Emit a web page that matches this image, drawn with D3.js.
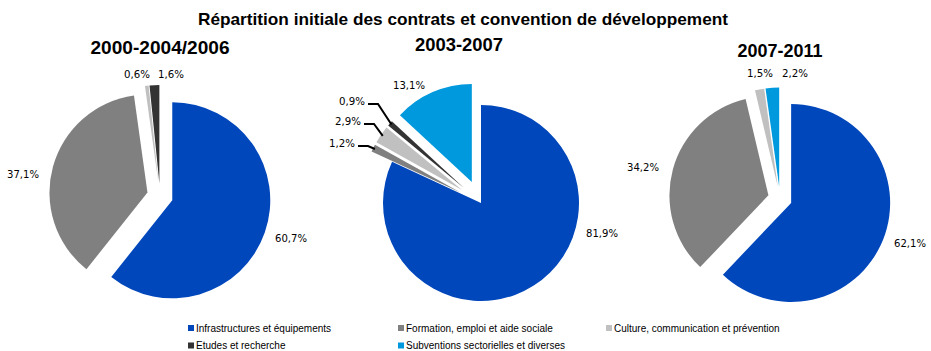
<!DOCTYPE html>
<html>
<head>
<meta charset="utf-8">
<script src="https://cdn.jsdelivr.net/npm/d3@7/dist/d3.min.js"></script>
<style>
  html, body { margin: 0; padding: 0; background: #fff; }
  svg { display: block; }
</style>
</head>
<body>
<svg id="chart" width="931" height="351"></svg>
<script>
// Categories of the development contracts
const categories = [
  "Infrastructures et équipements",
  "Formation, emploi et aide sociale",
  "Culture, communication et prévention",
  "Etudes et recherche",
  "Subventions sectorielles et diverses"
];
const periods = ["2000-2004/2006", "2003-2007", "2007-2011"];

// Initial share of each category (%), per period, in category order
const shares2000 = [60.7, 37.1, 0.6, 1.6, 0];
const shares2003 = [81.9, 1.2, 2.9, 0.9, 13.1];
const shares2007 = [62.1, 34.2, 1.5, 0, 2.2];

const palette = ["#0047BB", "#808080", "#C0C0C0", "#333333", "#0099DD"];

// Placement of each pie: centre, radius, slice offsets, label offsets from centre
const panels = [
  {
    values: shares2000, period: periods[0], cx: 160, cy: 196, r: 98,
    explode: [13, 13, 13, 13, 13],
    labels: [[131, 42], [-137, -22], [-23, -122], [11, -122], null],
    leaders: [],
    title: { x: 160, y: 54, len: 139 }
  },
  {
    values: shares2003, period: periods[1], cx: 481, cy: 203, r: 98,
    explode: [0, 23, 23, 23, 23],
    labels: [[121, 30], [-139, -60], [-133, -82], [-129, -102], [-72, -118]],
    leaders: [1, 2, 3],
    title: { x: 459, y: 51, len: 88 }
  },
  {
    values: shares2007, period: periods[2], cx: 780, cy: 198.5, r: 99,
    explode: [12, 12, 12, 12, 12],
    labels: [[130, 44.5], [-137, -31.5], [-20, -125.5], null, [15, -125.5]],
    leaders: [],
    title: { x: 780, y: 57, len: 85 }
  }
];

const svg = d3.select("#chart");
const pctFormat = v => d3.format(".1f")(v).replace(".", ",") + "%";

svg.append("text")
  .attr("x", 463).attr("y", 25)
  .attr("text-anchor", "middle")
  .attr("font-family", "'Liberation Sans', Arial, sans-serif")
  .attr("font-weight", "bold")
  .attr("font-size", 17)
  .attr("textLength", 530)
  .attr("lengthAdjust", "spacingAndGlyphs")
  .attr("fill", "#000")
  .text("Répartition initiale des contrats et convention de développement");

const pie = d3.pie().sort(null).value(d => d.value).startAngle(0).endAngle(2 * Math.PI);

panels.forEach(p => {
  const arc = d3.arc().innerRadius(0).outerRadius(p.r);
  const data = p.values.map((v, i) => ({ value: v, index: i }));
  const arcs = pie(data);
  const g = svg.append("g").attr("transform", `translate(${p.cx},${p.cy})`);

  const offset = a => {
    const mid = (a.startAngle + a.endAngle) / 2;
    const d = p.explode[a.data.index];
    return [d * Math.sin(mid), -d * Math.cos(mid)];
  };

  g.selectAll("path.slice")
    .data(arcs.filter(a => a.data.value > 0))
    .join("path")
    .attr("class", "slice")
    .attr("transform", a => `translate(${offset(a)})`)
    .attr("d", arc)
    .attr("fill", a => palette[a.data.index]);

  // leader lines from the small labels to their slices
  p.leaders.forEach(i => {
    const a = arcs[i];
    const mid = (a.startAngle + a.endAngle) / 2;
    const [ox, oy] = offset(a);
    const end = [ox + 0.98 * p.r * Math.sin(mid), oy - 0.98 * p.r * Math.cos(mid)];
    const [lx, ly] = p.labels[i];
    const pts = [[lx + 16, ly + 3], [lx + 26, ly + 3], end];
    g.append("path")
      .attr("d", d3.line()(pts))
      .attr("fill", "none")
      .attr("stroke", "#000")
      .attr("stroke-width", 2);
  });

  g.selectAll("text.lbl")
    .data(arcs.filter(a => a.data.value > 0 && p.labels[a.data.index]))
    .join("text")
    .attr("class", "lbl")
    .attr("x", a => p.labels[a.data.index][0])
    .attr("y", a => p.labels[a.data.index][1])
    .attr("dy", "0.35em")
    .attr("text-anchor", "middle")
    .attr("font-family", "'DejaVu Sans', Verdana, sans-serif")
    .attr("font-size", 10.5)
    .attr("textLength", a => (a.data.value >= 10 ? 32 : 26))
    .attr("lengthAdjust", "spacingAndGlyphs")
    .attr("fill", "#000")
    .text(a => pctFormat(a.data.value));

  svg.append("text")
    .attr("x", p.title.x).attr("y", p.title.y)
    .attr("text-anchor", "middle")
    .attr("font-family", "'Liberation Sans', Arial, sans-serif")
    .attr("font-weight", "bold")
    .attr("font-size", 18)
    .attr("textLength", p.title.len)
    .attr("lengthAdjust", "spacingAndGlyphs")
    .attr("fill", "#000")
    .text(p.period);
});

// Legend: two rows, three columns
const legendCols = [188, 398, 606];
const legendRows = [328, 345.5];
const legend = svg.append("g");
categories.forEach((c, i) => {
  const x = legendCols[i % 3], y = legendRows[Math.floor(i / 3)];
  legend.append("rect")
    .attr("x", x).attr("y", y - 3).attr("width", 6).attr("height", 6)
    .attr("fill", palette[i]);
  legend.append("text")
    .attr("x", x + 8).attr("y", y).attr("dy", "0.35em")
    .attr("font-family", "'Liberation Sans', Arial, sans-serif")
    .attr("font-size", 10)
    .attr("fill", "#000")
    .text(c);
});
</script>
</body>
</html>
